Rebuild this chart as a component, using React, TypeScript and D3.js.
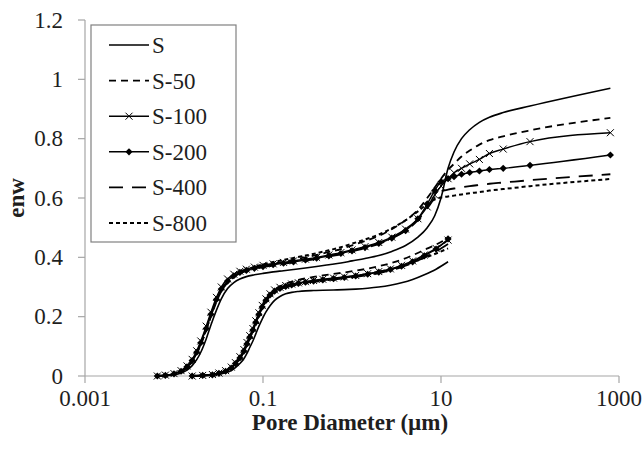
import React from "react";
import * as d3 from "d3";

// Pore diameter grids (µm)
const upperD = [0.0065, 0.008, 0.01, 0.012, 0.014, 0.016, 0.018, 0.02, 0.023, 0.026, 0.03, 0.034, 0.04, 0.047, 0.055, 0.065, 0.08, 0.1, 0.13, 0.17, 0.22, 0.3, 0.4, 0.55, 0.75, 1, 1.4, 2, 2.8, 4, 5.5, 7, 8.5, 10, 12, 14, 17, 21, 27, 35, 50, 100, 800];
const lowerD = [0.016, 0.021, 0.027, 0.032, 0.038, 0.044, 0.049, 0.055, 0.061, 0.066, 0.071, 0.077, 0.083, 0.09, 0.098, 0.108, 0.12, 0.135, 0.155, 0.18, 0.21, 0.25, 0.3, 0.37, 0.47, 0.62, 0.82, 1.1, 1.5, 2, 2.7, 3.6, 4.8, 6.5, 8.8, 12];

// enw values, upper curve family
const upS = [0, 0.001, 0.004, 0.01, 0.02, 0.035, 0.055, 0.08, 0.125, 0.172, 0.222, 0.26, 0.295, 0.315, 0.327, 0.335, 0.341, 0.346, 0.351, 0.355, 0.359, 0.364, 0.369, 0.375, 0.381, 0.388, 0.396, 0.406, 0.42, 0.44, 0.468, 0.5, 0.54, 0.6, 0.7, 0.755, 0.8, 0.83, 0.855, 0.872, 0.888, 0.91, 0.97];
const upS50 = [0, 0.002, 0.006, 0.014, 0.028, 0.048, 0.075, 0.105, 0.153, 0.2, 0.25, 0.285, 0.315, 0.334, 0.347, 0.355, 0.363, 0.371, 0.378, 0.385, 0.392, 0.4, 0.408, 0.418, 0.428, 0.44, 0.455, 0.472, 0.495, 0.525, 0.56, 0.6, 0.635, 0.665, 0.695, 0.715, 0.74, 0.76, 0.78, 0.795, 0.808, 0.828, 0.87];
const upS100 = [0, 0.003, 0.008, 0.018, 0.034, 0.056, 0.085, 0.118, 0.168, 0.215, 0.265, 0.3, 0.327, 0.343, 0.353, 0.36, 0.367, 0.373, 0.378, 0.383, 0.388, 0.394, 0.4, 0.408, 0.416, 0.425, 0.436, 0.45, 0.468, 0.495, 0.53, 0.57, 0.61, 0.64, 0.665, 0.685, 0.7, 0.715, 0.73, 0.75, 0.765, 0.79, 0.82];
const upS200 = [0, 0.002, 0.007, 0.016, 0.031, 0.052, 0.08, 0.112, 0.16, 0.208, 0.258, 0.293, 0.32, 0.338, 0.349, 0.356, 0.363, 0.369, 0.375, 0.38, 0.385, 0.391, 0.397, 0.405, 0.413, 0.422, 0.433, 0.447, 0.465, 0.49, 0.53, 0.58, 0.625, 0.655, 0.665, 0.672, 0.68, 0.686, 0.691, 0.696, 0.7, 0.71, 0.745];
const upS400 = [0, 0.002, 0.006, 0.015, 0.03, 0.05, 0.078, 0.11, 0.157, 0.205, 0.255, 0.29, 0.317, 0.335, 0.346, 0.354, 0.361, 0.367, 0.373, 0.378, 0.383, 0.389, 0.395, 0.403, 0.411, 0.42, 0.431, 0.445, 0.463, 0.49, 0.525, 0.565, 0.6, 0.622, 0.628, 0.632, 0.636, 0.64, 0.644, 0.648, 0.652, 0.66, 0.68];
const upS800 = [0, 0.002, 0.006, 0.015, 0.03, 0.05, 0.078, 0.11, 0.157, 0.205, 0.255, 0.29, 0.319, 0.338, 0.35, 0.359, 0.368, 0.376, 0.384, 0.391, 0.398, 0.406, 0.414, 0.424, 0.434, 0.446, 0.46, 0.477, 0.498, 0.525, 0.555, 0.58, 0.595, 0.602, 0.605, 0.608, 0.612, 0.616, 0.62, 0.625, 0.63, 0.64, 0.664];

// enw values, lower curve family
const loS = [0, 0.001, 0.003, 0.006, 0.011, 0.018, 0.028, 0.042, 0.058, 0.076, 0.096, 0.118, 0.142, 0.168, 0.192, 0.216, 0.237, 0.255, 0.268, 0.277, 0.282, 0.285, 0.287, 0.288, 0.289, 0.29, 0.291, 0.293, 0.296, 0.3, 0.306, 0.314, 0.325, 0.341, 0.36, 0.385];
const loS50 = [0, 0.002, 0.005, 0.01, 0.018, 0.03, 0.045, 0.064, 0.087, 0.11, 0.133, 0.157, 0.183, 0.21, 0.235, 0.258, 0.276, 0.291, 0.302, 0.311, 0.318, 0.324, 0.329, 0.334, 0.339, 0.344, 0.349, 0.355, 0.362, 0.37, 0.38, 0.392, 0.407, 0.425, 0.443, 0.465];
const loS100 = [0, 0.002, 0.005, 0.01, 0.018, 0.03, 0.045, 0.065, 0.089, 0.113, 0.136, 0.16, 0.186, 0.213, 0.238, 0.26, 0.277, 0.29, 0.299, 0.305, 0.31, 0.314, 0.318, 0.322, 0.326, 0.33, 0.334, 0.339, 0.345, 0.352, 0.361, 0.373, 0.388, 0.408, 0.43, 0.458];
const loS200 = [0, 0.002, 0.004, 0.009, 0.016, 0.027, 0.042, 0.061, 0.084, 0.108, 0.131, 0.155, 0.181, 0.208, 0.233, 0.255, 0.273, 0.286, 0.295, 0.302, 0.307, 0.312, 0.316, 0.32, 0.324, 0.328, 0.332, 0.337, 0.343, 0.35, 0.359, 0.37, 0.385, 0.405, 0.428, 0.462];
const loS400 = [0, 0.002, 0.004, 0.009, 0.016, 0.027, 0.041, 0.059, 0.082, 0.105, 0.128, 0.152, 0.178, 0.205, 0.23, 0.252, 0.27, 0.283, 0.292, 0.299, 0.304, 0.309, 0.313, 0.317, 0.321, 0.325, 0.329, 0.334, 0.34, 0.347, 0.356, 0.367, 0.381, 0.4, 0.42, 0.445];
const loS800 = [0, 0.002, 0.004, 0.009, 0.016, 0.027, 0.041, 0.059, 0.082, 0.105, 0.128, 0.152, 0.178, 0.205, 0.23, 0.252, 0.27, 0.284, 0.294, 0.301, 0.306, 0.311, 0.315, 0.319, 0.323, 0.327, 0.332, 0.337, 0.344, 0.351, 0.36, 0.37, 0.383, 0.398, 0.413, 0.43];

const seriesNames = ["S", "S-50", "S-100", "S-200", "S-400", "S-800"];
const upperValues = [upS, upS50, upS100, upS200, upS400, upS800];
const lowerValues = [loS, loS50, loS100, loS200, loS400, loS800];
const xTickValues = [0.001, 0.1, 10, 1000];
const xTickLabels = ["0.001", "0.1", "10", "1000"];
const yTickValues = [0, 0.2, 0.4, 0.6, 0.8, 1, 1.2];

type Style = { dash: string; width: number; marker: "none" | "x" | "diamond" };
const styles: Style[] = [
  { dash: "", width: 1.6, marker: "none" },
  { dash: "7,5", width: 1.8, marker: "none" },
  { dash: "", width: 1.4, marker: "x" },
  { dash: "", width: 1.4, marker: "diamond" },
  { dash: "14,9", width: 1.8, marker: "none" },
  { dash: "4,3", width: 2, marker: "none" },
];

const W = 644;
const H = 454;
const FONT = "Liberation Serif";
const AXIS = "#a6a6a6";
const TEXT = "#1e1e1e";

const x = d3.scaleLog().domain([0.001, 1000]).range([85, 619]);
const y = d3.scaleLinear().domain([0, 1.2]).range([376, 20]);

const line = d3
  .line<[number, number]>()
  .x((p) => x(p[0]))
  .y((p) => y(p[1]))
  .curve(d3.curveMonotoneX);

function Marker({ kind, cx, cy }: { kind: Style["marker"]; cx: number; cy: number }) {
  if (kind === "x") {
    const r = 3.5;
    return (
      <path
        d={`M${cx - r},${cy - r}L${cx + r},${cy + r}M${cx - r},${cy + r}L${cx + r},${cy - r}`}
        stroke="#000"
        strokeWidth={1}
        fill="none"
      />
    );
  }
  if (kind === "diamond") {
    const r = 3.6;
    return <path d={`M${cx},${cy - r}L${cx + r},${cy}L${cx},${cy + r}L${cx - r},${cy}Z`} fill="#000" />;
  }
  return null;
}

function Series({ ds, vs, st }: { ds: number[]; vs: number[]; st: Style }) {
  const pts: [number, number][] = ds.map((d, i) => [d, vs[i]]);
  return (
    <g>
      <path d={line(pts) || ""} fill="none" stroke="#000" strokeWidth={st.width} strokeDasharray={st.dash || undefined} />
      {st.marker !== "none" && pts.map((p, i) => <Marker key={i} kind={st.marker} cx={x(p[0])} cy={y(p[1])} />)}
    </g>
  );
}

export default function App() {
  const legendX = 91;
  const legendY = 25;
  const rowH = 35.6;
  const txt = { fontFamily: FONT };
  return (
    <svg width={W} height={H} style={{ position: "absolute", left: 0, top: 0, background: "#fff" }}>
      <rect width={W} height={H} fill="#fff" />
      {/* axes */}
      <line x1={x(0.001)} x2={x(1000)} y1={y(0)} y2={y(0)} stroke={AXIS} strokeWidth={1.2} />
      <line x1={x(0.001)} x2={x(0.001)} y1={y(0)} y2={y(1.2)} stroke={AXIS} strokeWidth={1.2} />
      {xTickValues.map((v, i) => (
        <g key={v}>
          <line x1={x(v)} x2={x(v)} y1={y(0)} y2={y(0) + 7} stroke={AXIS} strokeWidth={1.2} />
          <text x={x(v)} y={406} textAnchor="middle" fontSize={23} fill={TEXT} style={txt}>
            {xTickLabels[i]}
          </text>
        </g>
      ))}
      {yTickValues.map((v) => (
        <g key={v}>
          <line x1={x(0.001) - 7} x2={x(0.001)} y1={y(v)} y2={y(v)} stroke={AXIS} strokeWidth={1.2} />
          <text x={63} y={y(v) + 7.5} textAnchor="end" fontSize={23} fill={TEXT} style={txt}>
            {String(v)}
          </text>
        </g>
      ))}
      <text x={350} y={430} textAnchor="middle" fontSize={23} fontWeight="bold" fill={TEXT} style={txt}>
        Pore Diameter (µm)
      </text>
      <text transform={`translate(24,198) rotate(-90)`} textAnchor="middle" fontSize={23} fontWeight="bold" fill={TEXT} style={txt}>
        enw
      </text>

      {/* curves */}
      {lowerValues.map((vs, i) => (
        <Series key={"lo" + i} ds={lowerD} vs={vs} st={styles[i]} />
      ))}
      {upperValues.map((vs, i) => (
        <Series key={"up" + i} ds={upperD} vs={vs} st={styles[i]} />
      ))}

      {/* legend */}
      <rect x={legendX} y={legendY} width={145} height={217} fill="#fff" stroke="#808080" strokeWidth={1.2} />
      {seriesNames.map((name, i) => {
        const cy = legendY + 20 + i * rowH;
        const st = styles[i];
        return (
          <g key={name}>
            <line x1={109} x2={149} y1={cy} y2={cy} stroke="#000" strokeWidth={st.width} strokeDasharray={st.dash || undefined} />
            {st.marker !== "none" && <Marker kind={st.marker} cx={129} cy={cy} />}
            <text x={152} y={cy + 8} fontSize={23} fill={TEXT} style={txt}>
              {name}
            </text>
          </g>
        );
      })}
    </svg>
  );
}
